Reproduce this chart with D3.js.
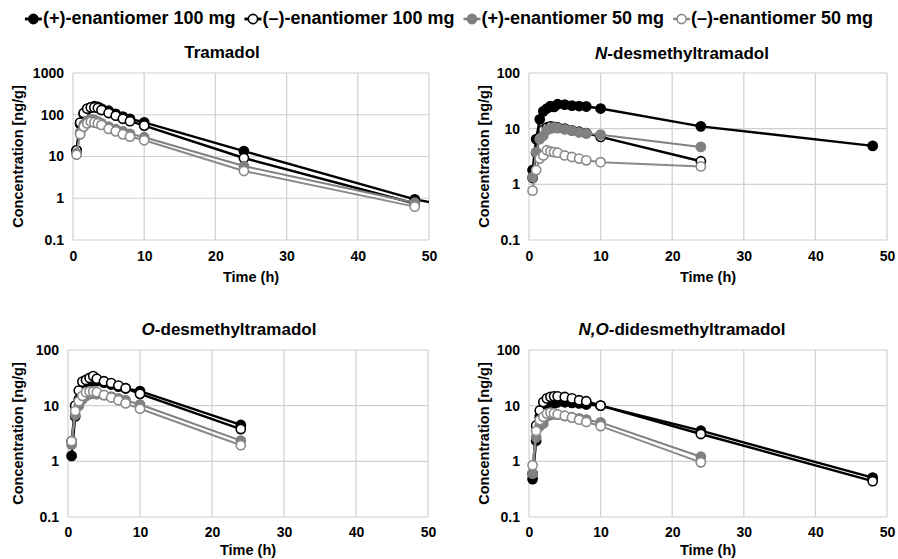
<!DOCTYPE html>
<html><head><meta charset="utf-8">
<script src="https://cdn.jsdelivr.net/npm/d3@7"></script>
<style>
body{margin:0;background:#fff}
text{font-family:"Liberation Sans",Arial,Helvetica,sans-serif;font-weight:bold;fill:#000}
</style>
</head><body>
<svg id="c" width="898" height="559"></svg>
<script>
// ---------- DATA ----------
const seriesNames = ["(+)-enantiomer 100 mg","(\u2013)-enantiomer 100 mg","(+)-enantiomer 50 mg","(\u2013)-enantiomer 50 mg"];
const xTicks = [0,10,20,30,40,50];
const yTicksTop = [0.1,1,10,100,1000];
const yTicksOther = [0.1,1,10,100];
const yTickLabels = {0.1:"0.1",1:"1",10:"10",100:"100",1000:"1000"};

const time48 = [0.5,1,1.5,2,2.5,3,3.5,4,5,6,7,8,10,24,48];
const time24 = [0.5,1,1.5,2,2.5,3,3.5,4,5,6,7,8,10,24];
const time72 = [0.5,1,1.5,2,2.5,3,3.5,4,5,6,7,8,10,24,48,72];

// Tramadol
const tramPlus100  = [14,60,105,135,150,160,155,140,125,105,90,80,66,13.5,0.94,0.16];
const tramMinus100 = [14,65,110,140,150,150,145,130,110,95,80,70,55,9.2,0.75];
const tramPlus50   = [12,38,58,70,78,75,68,62,52,45,40,35,29,5.9,0.78];
const tramMinus50  = [11,34,52,62,68,65,62,57,46,40,34,30,24.5,4.5,0.63];

// N-desmethyltramadol
const ndtPlus100  = [1.8,6.5,14.7,20.5,23,25.5,24.6,27.5,27,26,25.5,25,23,11,4.9];
const ndtMinus100 = [1.3,3.7,7,9.5,10.5,11,10.8,10.5,10,9.3,8.8,8.3,7.1,2.6];
const ndtPlus50   = [1.35,3.8,6.5,7.5,9.5,10,10.5,10.2,9.7,9.2,8.6,8.2,7.8,4.7];
const ndtMinus50  = [0.77,1.8,2.9,3.3,4.1,3.9,3.8,3.7,3.3,3.1,2.9,2.7,2.5,2.1];

// O-desmethyltramadol
const odtPlus100  = [1.25,6.4,13,20,23,25.5,27.5,27.5,26,24,22,20.5,18.3,4.5];
const odtMinus100 = [2.3,10,18.7,27,29,31.5,34,30.5,27.5,25.5,23,20.6,16.3,3.8];
const odtPlus50   = [2.0,6.8,10,13,15,16,16.5,16,15.5,14.5,13.5,12.5,10.5,2.35];
const odtMinus50  = [2.3,8,12,15,17.5,18,18,17.5,15.5,14,12.5,11,8.8,1.95];

// N,O-didesmethyltramadol
const nodtPlus100  = [0.48,2.35,6.3,8.5,10,10.5,11,11.5,11.5,11.2,11,10.5,10,3.55,0.51];
const nodtMinus100 = [0.6,4.4,8.2,11.6,13.5,14.4,14.7,14.7,14.3,13.5,12.5,12,10,3.1,0.44];
const nodtPlus50   = [0.6,2.7,4.3,4.8,6.5,6.8,7.0,6.9,6.5,6.2,5.9,5.6,5.0,1.21];
const nodtMinus50  = [0.85,3.5,5.5,6.3,7.2,7.5,7.3,7.0,6.6,6.1,5.6,5.1,4.3,0.96];

// ---------- STYLE / LAYOUT ----------
const styles = [
  {stroke:"#000", fill:"#000", lw:2.4},
  {stroke:"#000", fill:"#fff", lw:2.4},
  {stroke:"#808080", fill:"#808080", lw:2},
  {stroke:"#8a8a8a", fill:"#fff", lw:2}
];
const panels = [
  {title:[["Tramadol",false]], tx:222, ty:54, x0:73, x1:429, y0:73, y1:240, yMax:1000, yTicks:yTicksTop, ylx:19,
   series:[[time72,tramPlus100],[time48,tramMinus100],[time48,tramPlus50],[time48,tramMinus50]]},
  {title:[["N",true],["-desmethyltramadol",false]], tx:682, ty:55, x0:529, x1:887, y0:73, y1:240, yMax:100, yTicks:yTicksOther, ylx:485,
   series:[[time48,ndtPlus100],[time24,ndtMinus100],[time24,ndtPlus50],[time24,ndtMinus50]]},
  {title:[["O",true],["-desmethyltramadol",false]], tx:229, ty:331, x0:68, x1:428, y0:350, y1:517, yMax:100, yTicks:yTicksOther, ylx:19,
   series:[[time24,odtPlus100],[time24,odtMinus100],[time24,odtPlus50],[time24,odtMinus50]]},
  {title:[["N,O",true],["-didesmethyltramadol",false]], tx:682, ty:331, x0:529, x1:887, y0:350, y1:517, yMax:100, yTicks:yTicksOther, ylx:485,
   series:[[time48,nodtPlus100],[time48,nodtMinus100],[time24,nodtPlus50],[time24,nodtMinus50]]}
];

const svg = d3.select("#c");
const R = 4.6;

panels.forEach((p,pi)=>{
  const x = d3.scaleLinear().domain([0,50]).range([p.x0,p.x1]);
  const y = d3.scaleLog().domain([0.1,p.yMax]).range([p.y1,p.y0]);
  const g = svg.append("g");
  g.selectAll(".hg").data(p.yTicks).join("line")
    .attr("x1",p.x0).attr("x2",p.x1).attr("y1",d=>y(d)).attr("y2",d=>y(d))
    .attr("stroke","#d0d0d0").attr("stroke-width",1.2);
  g.selectAll(".vg").data(xTicks).join("line")
    .attr("y1",p.y0).attr("y2",p.y1).attr("x1",d=>x(d)).attr("x2",d=>x(d))
    .attr("stroke","#d0d0d0").attr("stroke-width",1.2);
  const ya = d3.axisLeft(y).tickValues(p.yTicks).tickFormat(d=>yTickLabels[d]).tickSize(0).tickPadding(9);
  const yg = g.append("g").attr("transform",`translate(${p.x0},0)`).call(ya);
  const xa = d3.axisBottom(x).tickValues(xTicks).tickFormat(d3.format("d")).tickSize(0).tickPadding(pi<2?11:10);
  const xg = g.append("g").attr("transform",`translate(0,${p.y1})`).call(xa);
  [yg,xg].forEach(a=>{a.select(".domain").remove();
    a.selectAll("text").attr("font-size",14).attr("font-family","Liberation Sans, Arial, sans-serif").attr("font-weight","bold").attr("fill","#000");});
  const t = g.append("text").attr("x",p.tx).attr("y",p.ty).attr("text-anchor","middle").attr("dominant-baseline","middle").attr("font-size",17);
  p.title.forEach(([s,it])=>t.append("tspan").text(s).attr("font-style",it?"italic":"normal"));
  g.append("text").attr("transform",`translate(${p.ylx},${(p.y0+p.y1)/2}) rotate(-90)`)
    .attr("text-anchor","middle").attr("dominant-baseline","middle").attr("font-size",14.5).text("Concentration [ng/g]");
  g.append("text").attr("x",(p.x0+p.x1)/2).attr("y",pi<2?278:551).attr("text-anchor","middle").attr("dominant-baseline","middle")
    .attr("font-size",14.5).text("Time (h)");
  const cid = "clip"+pi;
  svg.append("defs").append("clipPath").attr("id",cid).append("rect")
    .attr("x",p.x0-8).attr("y",p.y0-8).attr("width",p.x1-p.x0+8).attr("height",p.y1-p.y0+16);
  const dg = g.append("g").attr("clip-path",`url(#${cid})`);
  const line = d3.line().x(d=>x(d[0])).y(d=>y(d[1]));
  p.series.forEach(([tm,vals],si)=>{
    const st = styles[si];
    const pts = tm.map((t,i)=>[t,vals[i]]);
    const sg = dg.append("g");
    sg.append("path").attr("d",line(pts)).attr("fill","none").attr("stroke",st.stroke).attr("stroke-width",st.lw).attr("stroke-linejoin","round");
    sg.selectAll("circle").data(pts).join("circle").attr("cx",d=>x(d[0])).attr("cy",d=>y(d[1])).attr("r",R)
      .attr("fill",st.fill).attr("stroke",st.stroke).attr("stroke-width",1.6);
  });
});

// legend
const lg = svg.append("g");
const items = [];
seriesNames.forEach((n,i)=>{
  const st = styles[i];
  const it = lg.append("g");
  it.append("line").attr("x1",0).attr("x2",17).attr("y1",0).attr("y2",0).attr("stroke",st.stroke).attr("stroke-width",st.lw+0.5);
  it.append("circle").attr("cx",8.5).attr("cy",0).attr("r",R).attr("fill",st.fill).attr("stroke",st.stroke).attr("stroke-width",1.6);
  const tx = it.append("text").attr("x",18).attr("y",0).attr("dominant-baseline","middle").attr("font-size",18).text(n);
  const w = 18 + tx.node().getComputedTextLength();
  items.push([it,w]);
});
const gap = 9;
const total = d3.sum(items,d=>d[1]) + gap*(items.length-1);
let xx = (898-total)/2;
items.forEach(([it,w])=>{ it.attr("transform",`translate(${xx},19)`); xx += w+gap; });
</script>
</body></html>
